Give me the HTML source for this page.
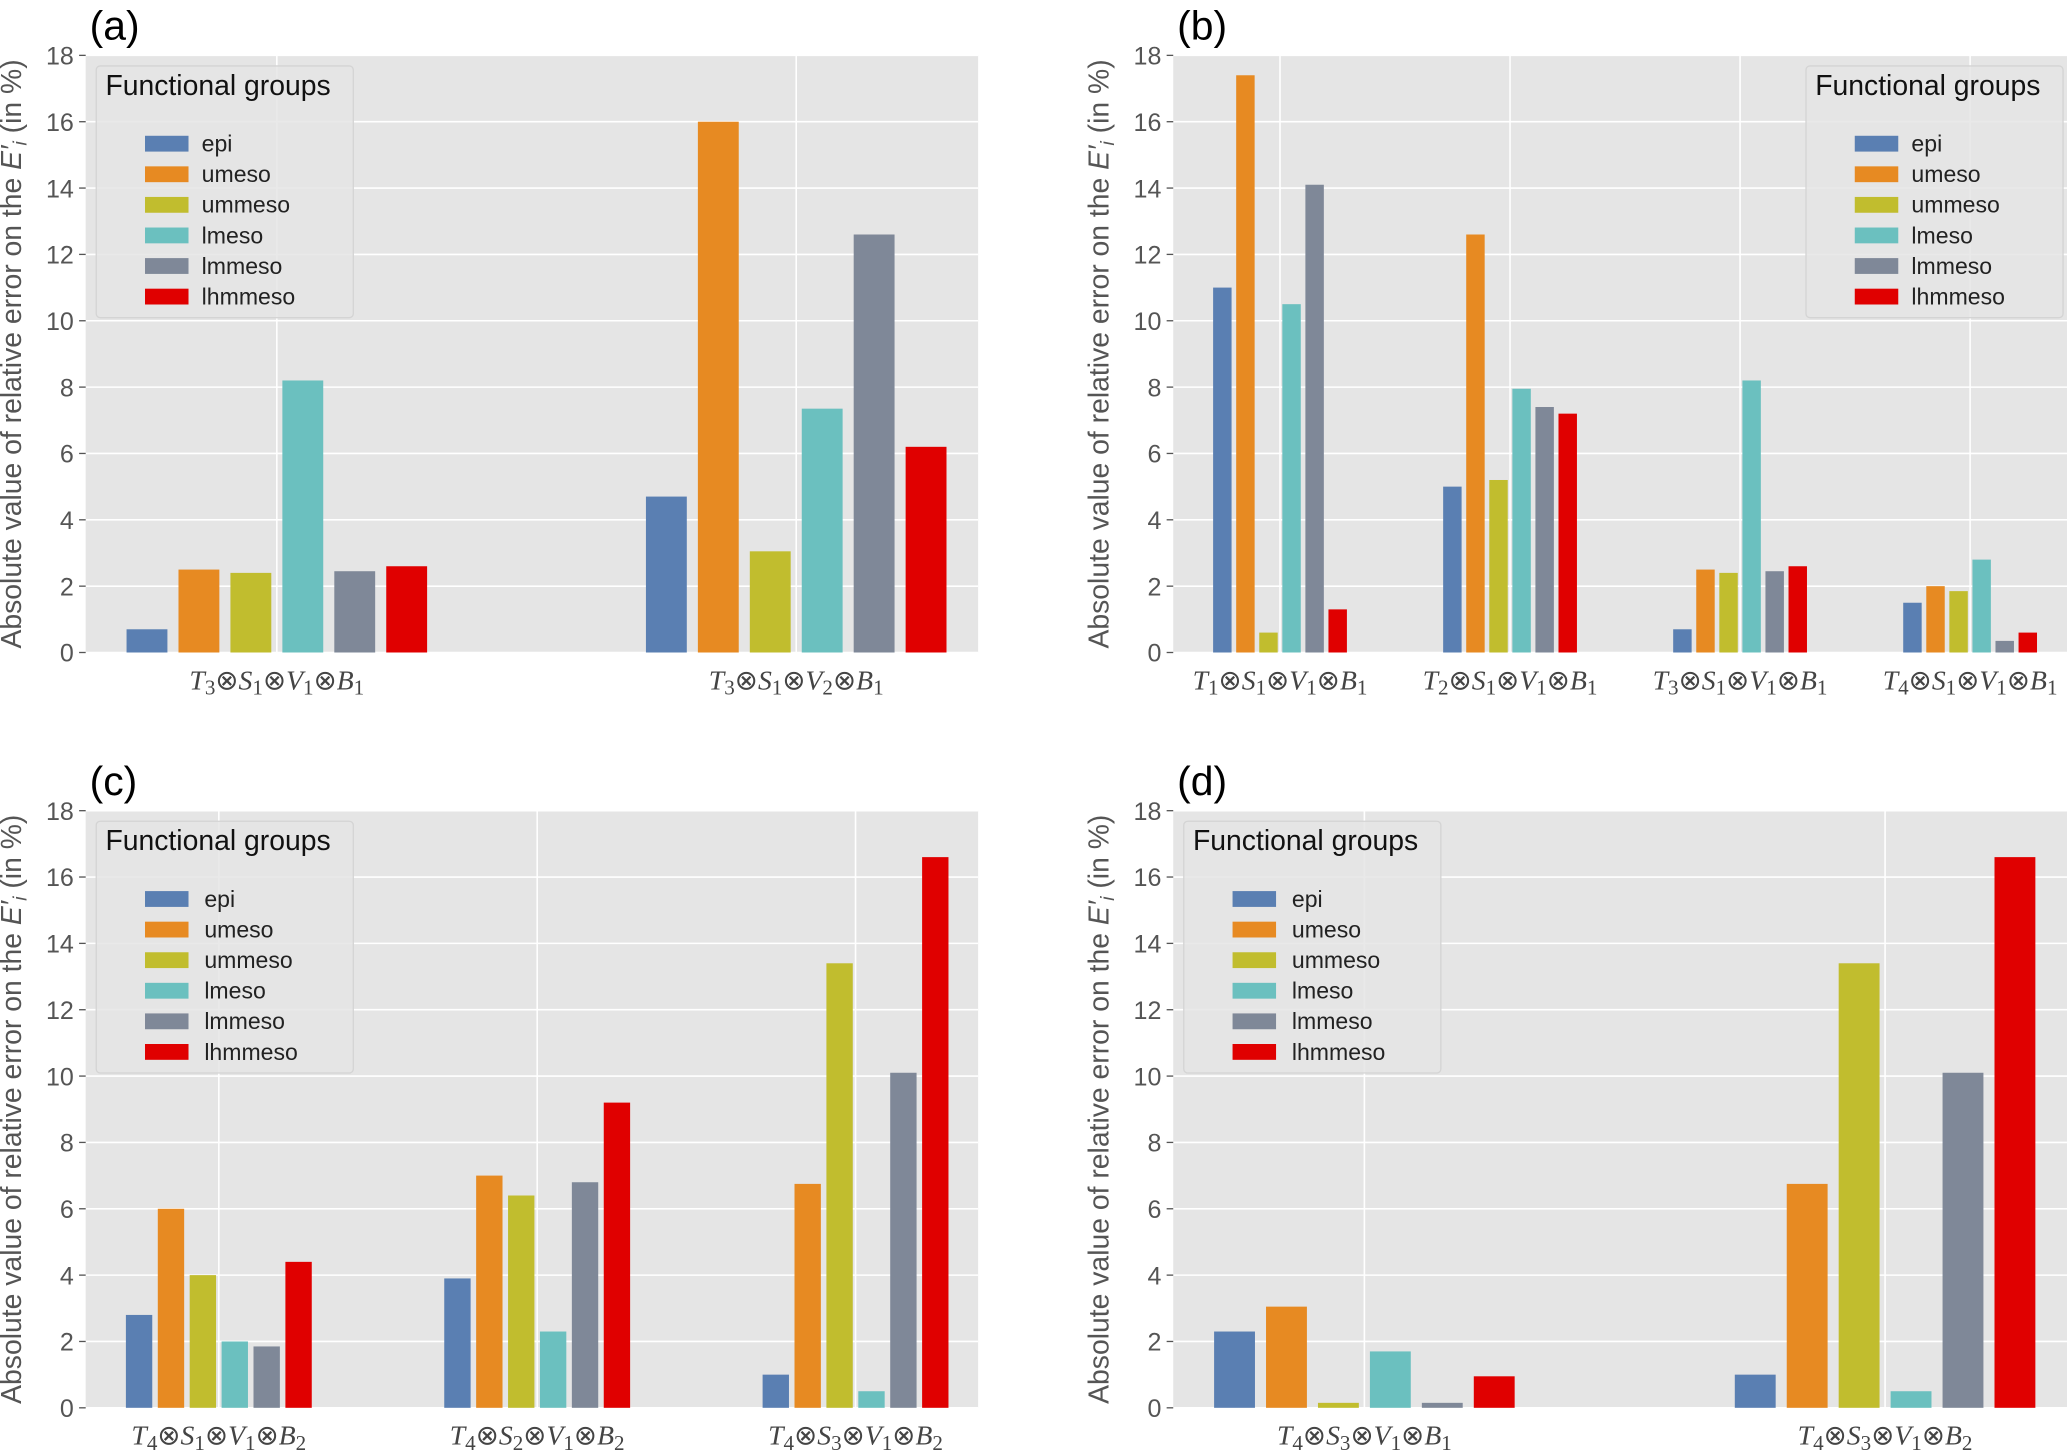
<!DOCTYPE html>
<html><head><meta charset="utf-8"><style>
html,body{margin:0;padding:0;background:#fff;}
svg{display:block;font-family:"Liberation Sans",sans-serif;}
</style></head><body>
<svg id="fig" width="2067" height="1450" viewBox="0 0 1568 1100" preserveAspectRatio="none" xmlns="http://www.w3.org/2000/svg"></svg>
<script>
const groups = ["epi","umeso","ummeso","lmeso","lmmeso","lhmmeso"];
const colors = ["#5a7fb2","#e78a22","#c1bd2e","#6bc0bf","#7f8898","#e00000"];
const yTicks = [0,2,4,6,8,10,12,14,16,18];
const catsA = [["T","3","S","1","V","1","B","1"],["T","3","S","1","V","2","B","1"]];
const valsA = [[0.7,2.5,2.4,8.2,2.45,2.6],[4.7,16.0,3.05,7.35,12.6,6.2]];
const catsB = [["T","1","S","1","V","1","B","1"],["T","2","S","1","V","1","B","1"],["T","3","S","1","V","1","B","1"],["T","4","S","1","V","1","B","1"]];
const valsB = [[11.0,17.4,0.6,10.5,14.1,1.3],[5.0,12.6,5.2,7.95,7.4,7.2],[0.7,2.5,2.4,8.2,2.45,2.6],[1.5,2.0,1.85,2.8,0.35,0.6]];
const catsC = [["T","4","S","1","V","1","B","2"],["T","4","S","2","V","1","B","2"],["T","4","S","3","V","1","B","2"]];
const valsC = [[2.8,6.0,4.0,2.0,1.85,4.4],[3.9,7.0,6.4,2.3,6.8,9.2],[1.0,6.75,13.4,0.5,10.1,16.6]];
const catsD = [["T","4","S","3","V","1","B","1"],["T","4","S","3","V","1","B","2"]];
const valsD = [[2.3,3.05,0.15,1.7,0.15,0.95],[1.0,6.75,13.4,0.5,10.1,16.6]];

const NS="http://www.w3.org/2000/svg";
const svg=document.getElementById('fig');
function mk(tag,attrs,parent){const e=document.createElementNS(NS,tag);for(const k in attrs)e.setAttribute(k,attrs[k]);(parent||svg).appendChild(e);return e;}

function panel(p){
  const g=mk('g',{});
  
  
  const x0=p.x0,x1=p.x1,yT=p.y0,yB=p.y0+453;
  const ys=v=>yB-(v/18)*(yB-yT);
  const bg=mk('rect',{x:x0,y:yT,width:x1-x0,height:yB-yT,fill:'#e5e5e5'},g);
  
  
  yTicks.forEach(t=>{
    mk('line',{x1:x0,x2:x1,y1:ys(t),y2:ys(t),stroke:'#fff','stroke-width':1.2},g);
    mk('line',{x1:x0-5,x2:x0,y1:ys(t),y2:ys(t),stroke:'#555','stroke-width':1},g);
    const tl=mk('text',{x:x0-9,y:ys(t)+7,'text-anchor':'end','font-size':19,fill:'#555'},g);
    tl.textContent=t;
    
    
  });
  p.cats.forEach((c,i)=>{
    const cx=p.c0+i*p.cstep;
    mk('line',{x1:cx,x2:cx,y1:yT,y2:yB,stroke:'#fff','stroke-width':1.2},g);
    const lab=mk('text',{x:cx,y:yB+28,'text-anchor':'middle','font-size':21,fill:'#444','font-family':'"Liberation Serif",serif'},g);
    
    
    for(let k=0;k<4;k++){
      const a=mk('tspan',{'font-style':'italic'},lab);a.textContent=c[2*k];
      const b=mk('tspan',{'font-size':16,dy:4},lab);b.textContent=c[2*k+1];
      const s=mk('tspan',{dy:-4},lab);s.textContent=k<3?'⊗':'';
    }
    p.vals[i].forEach((v,j)=>{
      const bx=cx+(j-2.5)*p.bstep-p.bw/2;
      const r=mk('rect',{x:bx,y:ys(v),width:p.bw,height:yB-ys(v),fill:colors[j]},g);
      
      
    });
  });
  const pl=mk('text',{x:x0+3,y:yT-12,'font-size':31,fill:'#000'},g);
  pl.textContent='('+p.id+')';
  
  
  const yl=mk('text',{transform:`translate(${x0-49},${(yT+yB)/2}) rotate(-90)`,'text-anchor':'middle','font-size':21.5,fill:'#555'},g);
  
  
  yl.appendChild(document.createTextNode('Absolute value of relative error on the '));
  const e1=mk('tspan',{'font-style':'italic'},yl);e1.textContent='E′';
  const e2=mk('tspan',{'font-style':'italic','font-size':15,dy:4},yl);e2.textContent='i';
  const e3=mk('tspan',{dy:-4},yl);e3.textContent=' (in %)';
  const lg=mk('g',{},g);
  
  
  const lx=p.lx, ly=yT+8;
  mk('rect',{x:lx,y:ly,width:195,height:191,rx:3,fill:'#e5e5e5',stroke:'#d4d4d4','stroke-width':1,'fill-opacity':0.85},lg);
  const lt=mk('text',{x:lx+7,y:ly+22,'font-size':21.5,fill:'#111'},lg);lt.textContent='Functional groups';
  
  
  groups.forEach((gname,j)=>{
    const ry=ly+59+j*23.2;
    const sw=mk('rect',{x:lx+37,y:ry-6,width:33,height:12,fill:colors[j]},lg);
    
    
    const tt=mk('text',{x:lx+(p.id==='c'||p.id==='d'?82:80),y:ry+6,'font-size':17.5,fill:'#222'},lg);
    tt.textContent=gname;
    
    
  });
}
panel({id:'a',x0:65,x1:742,y0:42,cats:catsA,vals:valsA,c0:210,cstep:394,bstep:39.4,bw:31,lx:73});
panel({id:'b',x0:890,x1:1568,y0:42,cats:catsB,vals:valsB,c0:971,cstep:174.5,bstep:17.5,bw:14,lx:1370});
panel({id:'c',x0:65,x1:742,y0:615,cats:catsC,vals:valsC,c0:166,cstep:241.5,bstep:24.2,bw:20,lx:73});
panel({id:'d',x0:890,x1:1568,y0:615,cats:catsD,vals:valsD,c0:1035,cstep:395,bstep:39.4,bw:31,lx:898});
</script>
</body></html>
